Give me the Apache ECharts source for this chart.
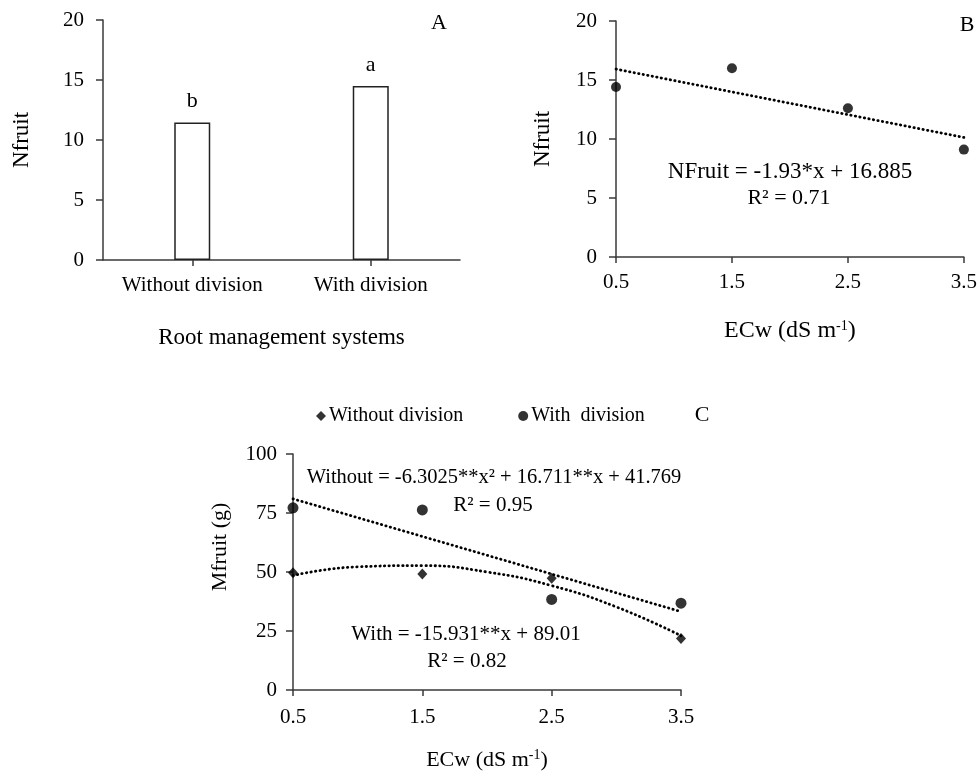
<!DOCTYPE html>
<html>
<head>
<meta charset="utf-8">
<script src="https://cdn.jsdelivr.net/npm/echarts@6/dist/echarts.min.js"></script>
<style>
html,body{margin:0;padding:0;background:#fff;}
#chart{width:980px;height:775px;}
</style>
</head>
<body>
<div id="chart"></div>
<script>
// ---- Data ----
const barCategories = ['Without division', 'With division'];
const barValues = [11.45, 14.5];
const barLetters = ['b', 'a'];
const nfruitTicks = [0, 5, 10, 15, 20];
const mfruitTicks = [0, 25, 50, 75, 100];
const ecwTicks = [0.5, 1.5, 2.5, 3.5];
const ecwLevels = [0.5, 1.5, 2.5, 3.5];
const nfruitValues = [14.4, 16.0, 12.6, 9.1];
const nfruitTrend = [[0.5, 15.92], [3.5, 10.13]];
const mfruitWithout = [49.7, 49.2, 47.3, 21.8];
const mfruitWith = [77.2, 76.3, 38.4, 36.8];
const withoutTrend = [[0.5, 48.5], [1.0, 52.2], [1.5, 52.7], [2.0, 50.0], [2.5, 44.2], [3.0, 35.2], [3.5, 23.0]];
const withTrend = [[0.5, 81.0], [3.5, 33.2]];
const legendNames = ['Without division', 'With  division'];

// ---- Styles ----
const FONT = '"Liberation Serif", "Times New Roman", serif';
const TXT = '#000';
const AX = '#3a3a3a';
const tickFS = 21, titleFS = 22;

function valueAxisY(gridIndex, ticks, labelMargin) {
  return {
    type: 'value', gridIndex,
    min: ticks[0], max: ticks[ticks.length - 1], interval: ticks[1] - ticks[0],
    axisLine: {show: true, lineStyle: {color: AX, width: 1.5}},
    axisTick: {show: true, length: 7, lineStyle: {color: AX, width: 1.5}},
    splitLine: {show: false},
    axisLabel: {color: TXT, fontFamily: FONT, fontSize: tickFS, margin: labelMargin}
  };
}
function ecwAxisX(gridIndex, labelMargin, nameGap, nameFS) {
  return {
    type: 'value', gridIndex,
    min: ecwTicks[0], max: ecwTicks[ecwTicks.length - 1], interval: ecwTicks[1] - ecwTicks[0],
    axisLine: {show: true, onZero: false, lineStyle: {color: AX, width: 1.5}},
    axisTick: {show: true, length: 6, lineStyle: {color: AX, width: 1.5}},
    splitLine: {show: false},
    axisLabel: {color: TXT, fontFamily: FONT, fontSize: tickFS, margin: labelMargin},
    name: '{n|ECw (dS m}{s|-1}{n|)}',
    nameLocation: 'middle', nameGap: nameGap,
    nameTextStyle: {
      rich: {
        n: {fontFamily: FONT, fontSize: nameFS, color: TXT, lineHeight: 24},
        s: {fontFamily: FONT, fontSize: 14, color: TXT, verticalAlign: 'top', lineHeight: 14}
      }
    }
  };
}
const dotted = {color: '#000', width: 2.8, type: [0.4, 4.2], cap: 'round'};

function txt(text, x, y, size, extra) {
  return Object.assign({
    type: 'text', x, y, silent: true,
    style: {text, fill: TXT, font: size + 'px ' + FONT, textAlign: 'center', textVerticalAlign: 'middle'}
  }, extra || {});
}

const chart = echarts.init(document.getElementById('chart'), null, {renderer: 'canvas'});
chart.setOption({
  backgroundColor: '#fff',
  animation: false,
  grid: [
    {left: 103, top: 20, width: 357, height: 240},
    {left: 616, top: 21, width: 348, height: 236},
    {left: 293, top: 454, width: 388, height: 236}
  ],
  legend: {
    data: legendNames, left: 311, top: 401, itemWidth: 10, itemHeight: 10, itemGap: 55,
    textStyle: {fontFamily: FONT, fontSize: 20, color: TXT, padding: [0, 0, 0, -2]},
    selectedMode: false
  },
  xAxis: [
    {
      type: 'category', gridIndex: 0, data: barCategories,
      axisLine: {show: true, lineStyle: {color: AX, width: 1.5}},
      axisTick: {show: true, alignWithLabel: true, length: 6, lineStyle: {color: AX, width: 1.5}},
      axisLabel: {color: TXT, fontFamily: FONT, fontSize: tickFS, margin: 15, interval: 0},
      name: 'Root management systems', nameLocation: 'middle', nameGap: 66,
      nameTextStyle: {fontFamily: FONT, fontSize: 23, color: TXT}
    },
    ecwAxisX(1, 15, 62, 24),
    ecwAxisX(2, 17, 58, 22)
  ],
  yAxis: [
    Object.assign(valueAxisY(0, nfruitTicks, 19), {
      name: 'Nfruit', nameLocation: 'middle', nameGap: 70,
      nameTextStyle: {fontFamily: FONT, fontSize: 23, color: TXT}
    }),
    Object.assign(valueAxisY(1, nfruitTicks, 19), {
      name: 'Nfruit', nameLocation: 'middle', nameGap: 62,
      nameTextStyle: {fontFamily: FONT, fontSize: 23, color: TXT}
    }),
    valueAxisY(2, mfruitTicks, 16)
  ],
  series: [
    {
      type: 'bar', xAxisIndex: 0, yAxisIndex: 0, data: barValues, barWidth: 36,
      itemStyle: {color: '#fff', borderColor: '#222', borderWidth: 1.5},
      label: {
        show: true, position: 'top', distance: 10,
        fontFamily: FONT, fontSize: 22, color: TXT,
        formatter: p => barLetters[p.dataIndex]
      }
    },
    {
      name: 'trendB', type: 'line', xAxisIndex: 1, yAxisIndex: 1, data: nfruitTrend,
      showSymbol: false, lineStyle: dotted, z: 2
    },
    {
      name: 'NFruit', type: 'scatter', xAxisIndex: 1, yAxisIndex: 1,
      data: ecwLevels.map((x, i) => [x, nfruitValues[i]]),
      symbol: 'circle', symbolSize: 10, itemStyle: {color: '#000'}, z: 3
    },
    {
      name: 'trendWithout', type: 'line', xAxisIndex: 2, yAxisIndex: 2, data: withoutTrend,
      smooth: true, showSymbol: false, lineStyle: dotted, z: 2
    },
    {
      name: 'trendWith', type: 'line', xAxisIndex: 2, yAxisIndex: 2, data: withTrend,
      showSymbol: false, lineStyle: dotted, z: 2
    },
    {
      name: legendNames[0], type: 'scatter', xAxisIndex: 2, yAxisIndex: 2,
      data: ecwLevels.map((x, i) => [x, mfruitWithout[i]]),
      symbol: 'diamond', symbolSize: [10, 11], itemStyle: {color: '#000'}, z: 3
    },
    {
      name: legendNames[1], type: 'scatter', xAxisIndex: 2, yAxisIndex: 2,
      data: ecwLevels.map((x, i) => [x, mfruitWith[i]]),
      symbol: 'circle', symbolSize: 11, itemStyle: {color: '#000'}, z: 3
    }
  ],
  graphic: [
    txt('A', 439, 23, 22),
    txt('B', 967, 25, 22),
    txt('C', 702, 415, 22),
    txt('NFruit = -1.93*x + 16.885', 790, 172, 23),
    txt('R² = 0.71', 789, 198, 22),
    txt('Without = -6.3025**x² + 16.711**x + 41.769', 494, 478, 20.5),
    txt('R² = 0.95', 493, 505, 21),
    txt('With = -15.931**x + 89.01', 466, 634, 21),
    txt('R² = 0.82', 467, 661, 21),
    txt('Mfruit (g)', 220, 547, 22, {rotation: Math.PI / 2})
  ]
});
</script>
</body>
</html>
